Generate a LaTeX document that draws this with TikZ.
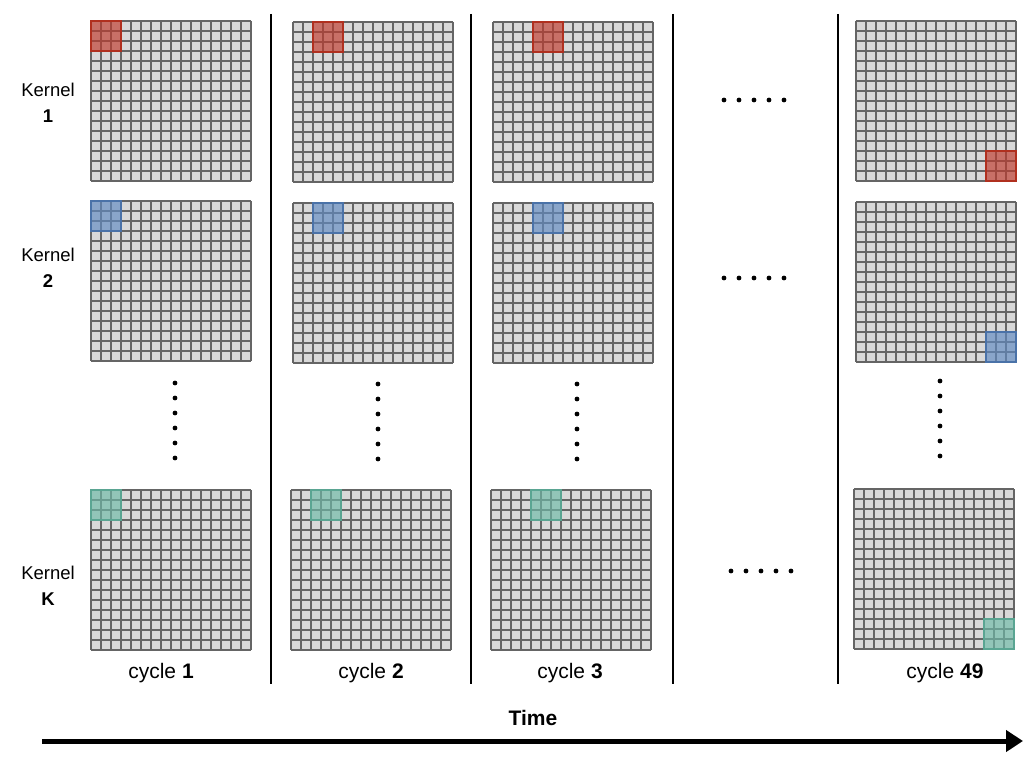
\documentclass[tikz,border=0pt]{standalone}
\usepackage{fontspec}
\setmainfont{Liberation Sans}
\usetikzlibrary{arrows.meta}
\definecolor{cellfill}{HTML}{D8D8D8}
\definecolor{gridc}{HTML}{656565}
\definecolor{hred}{HTML}{C0392B}
\definecolor{hredd}{HTML}{B0301F}
\definecolor{hblue}{HTML}{5F8AC4}
\definecolor{hblued}{HTML}{4A72A8}
\definecolor{hgreen}{HTML}{6DBBA8}
\definecolor{hgreend}{HTML}{5AA592}
\tikzset{
  gridln/.style={draw=gridc, line width=2.3pt},
  hlred/.style={fill=hred, fill opacity=.65, draw=hredd, line width=2.3pt},
  hlblue/.style={fill=hblue, fill opacity=.65, draw=hblued, line width=2.3pt},
  hlgreen/.style={fill=hgreen, fill opacity=.65, draw=hgreend, line width=2.3pt},
  sep/.style={draw=black, line width=2pt},
  dotc/.style={fill=black},
  klabel/.style={font=\fontsize{18.5}{26}\selectfont, align=center},
  clabel/.style={font=\fontsize{21}{25}\selectfont},
}
\newcommand\kgrid[5]{%
  \fill[cellfill] (#1,#2) rectangle ++(160,160);
  \foreach \i in {0,...,16} {
    \draw[gridln] ({#1+\i*10},#2) -- ++(0,160);
    \draw[gridln] (#1,{#2+\i*10}) -- ++(160,0);
  }
  \draw[#5] ({#1+#3*10},{#2+#4*10}) rectangle ++(30,30);
}
\newcommand\hdots[2]{\foreach \k in {0,...,4} \fill[dotc] ({#1+\k*15},#2) circle (2.4);}
\newcommand\vdotsk[2]{\foreach \k in {0,...,5} \fill[dotc] (#1,{#2+\k*15}) circle (2.4);}
\begin{document}
\begin{tikzpicture}[x=1pt,y=-1pt]
\useasboundingbox (0,0) rectangle (1024,768);
% grids row 1
\kgrid{91}{21}{0}{0}{hlred}
\kgrid{293}{22}{2}{0}{hlred}
\kgrid{493}{22}{4}{0}{hlred}
\kgrid{856}{21}{13}{13}{hlred}
% row 2
\kgrid{91}{201}{0}{0}{hlblue}
\kgrid{293}{203}{2}{0}{hlblue}
\kgrid{493}{203}{4}{0}{hlblue}
\kgrid{856}{202}{13}{13}{hlblue}
% row K
\kgrid{91}{490}{0}{0}{hlgreen}
\kgrid{291}{490}{2}{0}{hlgreen}
\kgrid{491}{490}{4}{0}{hlgreen}
\kgrid{854}{489}{13}{13}{hlgreen}
% separators
\foreach \x/\n in {271/a,471/b,673/c,838/d} {
  \coordinate (s\n t) at (\x,14);
  \coordinate (s\n b) at (\x,684);
  \draw[sep] (s\n t) -- (s\n b);
}
% dots
\hdots{724}{100}
\hdots{724}{278}
\hdots{731}{571}
\vdotsk{175}{383}
\vdotsk{378}{384}
\vdotsk{577}{384}
\vdotsk{940}{381}
% kernel labels
\node[klabel] (k1) at (48,103) {Kernel\\\textbf{1}};
\node[klabel] (k2) at (48,268) {Kernel\\\textbf{2}};
\node[klabel] (kK) at (48,586) {Kernel\\\textbf{K}};
% cycle labels
\node[clabel] (c1) at (161,673) {cycle \textbf{1}};
\node[clabel] (c2) at (371,673) {cycle \textbf{2}};
\node[clabel] (c3) at (570,673) {cycle \textbf{3}};
\node[clabel] (c49) at (945,673) {cycle \textbf{49}};
% time
\node[clabel] (time) at (533,718) {\textbf{Time}};
\coordinate (ta) at (42,741);
\coordinate (tb) at (1023,741);
\draw[line width=5pt, -{Triangle[length=17pt,width=21pt]}] (ta) -- (tb);
\end{tikzpicture}
\end{document}
